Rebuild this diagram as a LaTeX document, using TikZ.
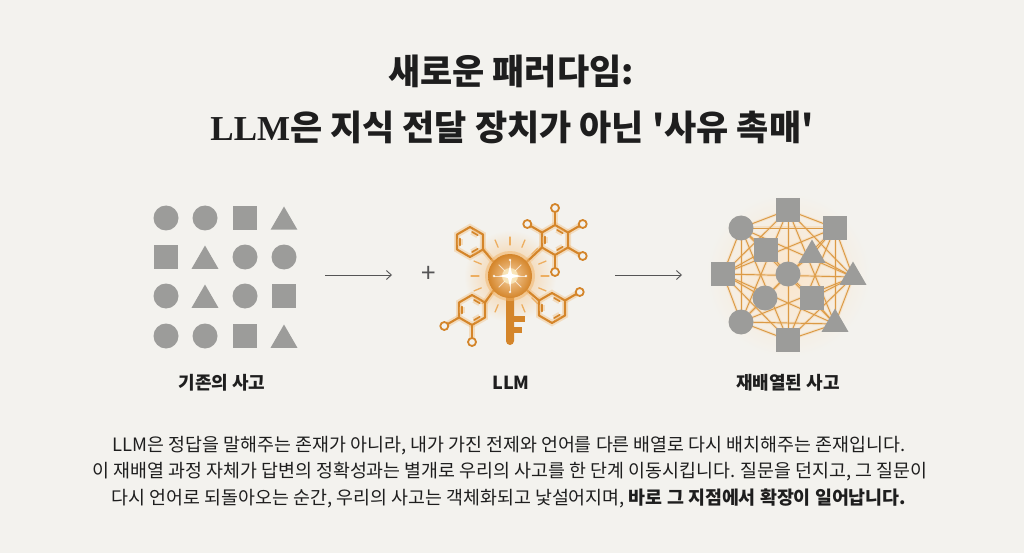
\documentclass[tikz,border=0pt]{standalone}
\usepackage{fontspec}
\newfontfamily\kr{Noto Sans CJK KR}
\newfontfamily\titlelatin{Liberation Serif}
\usetikzlibrary{arrows.meta,shapes.geometric}
\definecolor{bgc}{HTML}{F3F2EE}
\definecolor{sgray}{HTML}{9C9C9A}
\definecolor{org}{HTML}{D4852A}
\definecolor{orgl}{HTML}{F2B56A}
\definecolor{netc}{HTML}{DB9A45}
\definecolor{ink}{HTML}{1E1E1E}
\definecolor{arr}{HTML}{555555}
\pgfdeclarelayer{back}
\pgfdeclarelayer{lines}
\pgfsetlayers{back,lines,main}
\begin{document}
\begin{tikzpicture}[x=1pt,y=-1pt,
  gcirc/.style={circle,fill=sgray,minimum size=25pt,inner sep=0pt},
  gsq/.style={rectangle,fill=sgray,minimum size=24pt,inner sep=0pt},
  gtri/.style={regular polygon,regular polygon sides=3,fill=sgray,minimum size=31pt,inner sep=0pt,yshift=-4pt},
  mol/.style={draw=org,line width=2.1pt,line join=round,line cap=round,preaction={draw=orgl,line width=6pt,opacity=0.35}},
  sub/.style={circle,draw=org,line width=1.8pt,fill=bgc,minimum size=8pt,inner sep=0pt},
  net/.style={draw=netc,line width=0.95pt,preaction={draw=orgl,line width=3pt,opacity=0.22}},
  flow/.style={draw=arr,line width=0.9pt,-{Straight Barb[length=5pt,width=9pt]}},
  lab/.style={font=\kr\bfseries\fontsize{18}{20}\selectfont,text=ink},
  para/.style={font=\kr\fontsize{18.4}{20}\selectfont,text=ink},
  ttl/.style={font=\kr\bfseries\fontsize{35}{40}\selectfont,text=ink}
]
\begin{pgfonlayer}{back}
\fill[bgc] (0,0) rectangle (1024,553);
\shade[inner color=orgl!35,outer color=bgc] (788,275) circle (82);
\end{pgfonlayer}

% ---- titles
\node[ttl] (t1) at (511,71) {새로운 패러다임:};
\node[ttl] (t2) at (512,127) {{\titlelatin LLM}은 지식 전달 장치가 아닌 \char"0027사유 촉매\char"0027};

% ---- left grid
\node[gcirc] (g11) at (166,218) {};
\node[gcirc] (g12) at (205,218) {};
\node[gsq]   (g13) at (245,218) {};
\node[gtri]  (g14) at (284,218) {};
\node[gsq]   (g21) at (166,257) {};
\node[gtri]  (g22) at (205,257) {};
\node[gcirc] (g23) at (245,257) {};
\node[gcirc] (g24) at (284,257) {};
\node[gcirc] (g31) at (166,296) {};
\node[gtri]  (g32) at (205,296) {};
\node[gcirc] (g33) at (245,296) {};
\node[gsq]   (g34) at (284,296) {};
\node[gcirc] (g41) at (166,336) {};
\node[gcirc] (g42) at (205,336) {};
\node[gsq]   (g43) at (245,336) {};
\node[gtri]  (g44) at (284,336) {};

% ---- arrows and plus
\coordinate (a1s) at (325,275);
\coordinate (a1e) at (392,275);
\coordinate (a2s) at (615,275);
\coordinate (a2e) at (682,275);
\draw[flow] (a1s) -- (a1e);
\draw[flow] (a2s) -- (a2e);
\node[font=\kr\fontsize{26}{26}\selectfont,text=arr] (plus) at (429,274) {+};

% ---- key / molecule
\shade[inner color=orgl!75,outer color=bgc] (510,276) circle (46);
\foreach \a in {0,22.5,...,337.5}
  \draw[orgl!85!org,line width=1.3pt,line cap=round] ([shift={(\a:31)}]510,276) -- ([shift={(\a:39)}]510,276);
\coordinate (h1) at (470,242);
\coordinate (h2) at (555,240);
\coordinate (h3) at (472,310);
\coordinate (h4) at (552,308);
\foreach \h in {h1,h2,h3,h4}{
  \draw[mol] ([shift={(30:15)}]\h) \foreach \a in {90,150,210,270,330} {-- ([shift={(\a:15)}]\h)} -- cycle;
  \foreach \a in {30,150,270}
    \draw[mol,line width=1.6pt] ([shift={(\a+11:10.3)}]\h) -- ([shift={(\a+49:10.3)}]\h);
}
% bond vertices
\coordinate (b1) at ([shift={(30:15)}]h1);
\coordinate (b2) at ([shift={(150:15)}]h2);
\coordinate (b3) at ([shift={(330:15)}]h3);
\coordinate (b4) at ([shift={(210:15)}]h4);
\coordinate (kcen) at (510,276);
\draw[mol] (b1) -- ([shift={(220:20)}]kcen);
\draw[mol] (b2) -- ([shift={(320:20)}]kcen);
\draw[mol] (b3) -- ([shift={(140:20)}]kcen);
\draw[mol] (b4) -- ([shift={(40:20)}]kcen);
% substituents
\foreach \h/\a/\n in {h2/270/s1,h2/210/s2,h2/330/s3,h2/30/s4,h2/90/s5,h3/150/s6,h3/90/s7,h4/330/s8}{
  \draw[mol] ([shift={(\a:15)}]\h) -- ([shift={(\a:28)}]\h);
  \node[sub] (\n) at ([shift={(\a:32)}]\h) {};
}
% key shaft and teeth
\fill[orgl,opacity=0.3] (506.5,292) -- (513.5,292) -- (513.5,341) arc[start angle=0,end angle=180,radius=3.5] -- cycle;
\fill[org] (506,292) -- (514,292) -- (514,341) arc[start angle=0,end angle=180,radius=4] -- cycle;
\fill[org] (513,315.5) rectangle (525,321.5);
\fill[org] (513,327) rectangle (522,333);
% key head
\fill[orgl,opacity=0.5] (510,276) circle (25);
\node[circle,minimum size=44pt,inner sep=0pt,inner color=orgl!60!white,outer color=org] (kc) at (510,276) {};
\foreach \a in {0,45,...,315}
  \draw[white,opacity=0.65,line width=0.8pt] ([shift={(\a:7)}]kc.center) -- ([shift={(\a:16)}]kc.center);
\foreach \a in {0,90,180,270}
  \fill[white,opacity=0.8] ([shift={(\a:16)}]kc.center) circle (1.3);
\fill[white!85!yellow,opacity=0.6] (kc.center) circle (8);
\fill[white] ([shift={(0,-11)}]kc.center) -- ([shift={(2,-2)}]kc.center) -- ([shift={(11,0)}]kc.center) -- ([shift={(2,2)}]kc.center) -- ([shift={(0,11)}]kc.center) -- ([shift={(-2,2)}]kc.center) -- ([shift={(-11,0)}]kc.center) -- ([shift={(-2,-2)}]kc.center) -- cycle;

% ---- right network
\node[gsq]   (r1)  at (788,210) {};
\node[gsq]   (r2)  at (835,228) {};
\node[gcirc] (r3)  at (741,228) {};
\node[gsq]   (r4)  at (766,250) {};
\node[gtri]  (r5)  at (812,251) {};
\node[gsq]   (r6)  at (723,274) {};
\node[gcirc] (r7)  at (788,274) {};
\node[gtri]  (r8)  at (853,273) {};
\node[gcirc] (r9)  at (765,298) {};
\node[gsq]   (r10) at (812,298) {};
\node[gcirc] (r11) at (741,322) {};
\node[gtri]  (r12) at (835,320) {};
\node[gsq]   (r13) at (788,340) {};
\begin{pgfonlayer}{lines}
\foreach \p/\q in {r1/r2,r2/r8,r8/r12,r12/r13,r13/r11,r11/r6,r6/r3,r3/r1,
  r1/r8,r2/r12,r8/r13,r12/r11,r13/r6,r11/r3,r6/r1,r3/r2,
  r1/r12,r2/r13,r8/r11,r12/r6,r13/r3,r11/r1,r6/r2,r3/r8,
  r1/r13,r2/r11,r8/r6,r12/r3,
  r7/r4,r7/r5,r7/r9,r7/r10,r4/r3,r4/r6,r5/r2,r5/r8,r9/r11,r9/r6,r10/r12,r10/r8}
  \draw[net] (\p.center) -- (\q.center);
\end{pgfonlayer}

% ---- labels
\node[lab] (l1) at (222,383) {기존의 사고};
\node[lab] (l2) at (511,383) {LLM};
\node[lab] (l3) at (788,383) {재배열된 사고};

% ---- paragraph
\node[para] (p1) at (509,446) {LLM은 정답을 말해주는 존재가 아니라, 내가 가진 전제와 언어를 다른 배열로 다시 배치해주는 존재입니다.};
\node[para] (p2) at (510,472) {이 재배열 과정 자체가 답변의 정확성과는 별개로 우리의 사고를 한 단계 이동시킵니다. 질문을 던지고, 그 질문이};
\node[para] (p3) at (509,498) {다시 언어로 되돌아오는 순간, 우리의 사고는 객체화되고 낯설어지며, {\bfseries 바로 그 지점에서 확장이 일어납니다.}};
\end{tikzpicture}
\end{document}
